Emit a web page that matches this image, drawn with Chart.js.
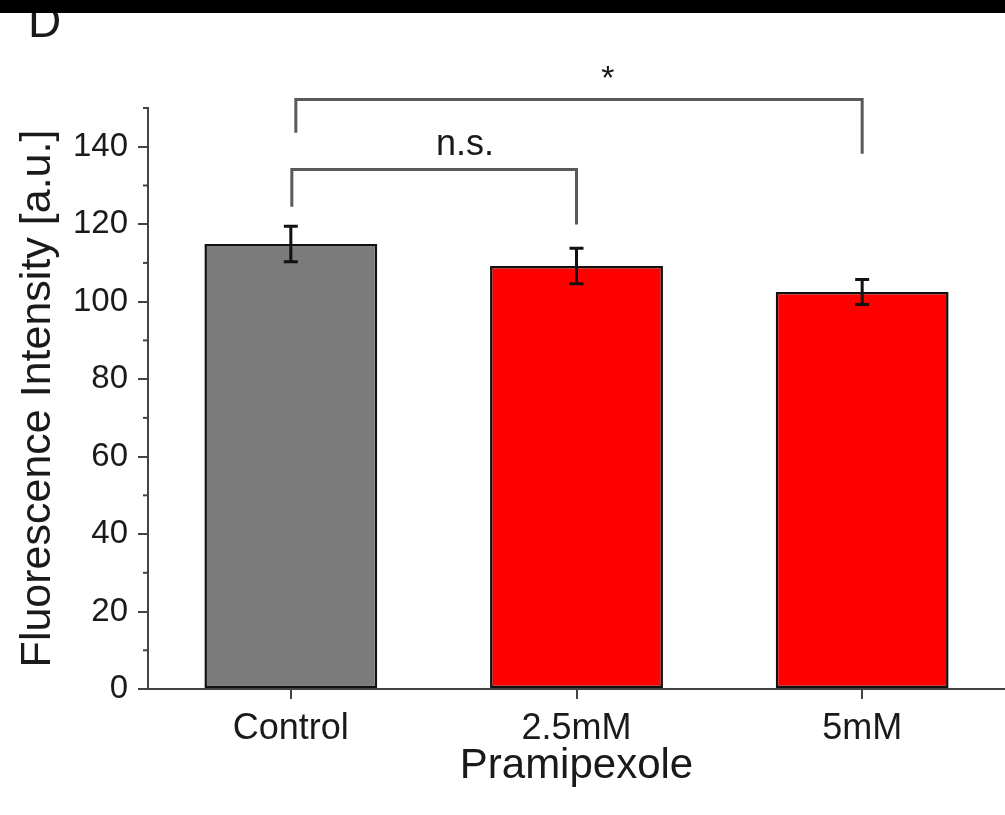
<!DOCTYPE html>
<html>
<head>
<meta charset="utf-8">
<script src="https://cdn.jsdelivr.net/npm/chart.js@4.4.1/dist/chart.umd.min.js"></script>
<style>
  html, body { margin: 0; padding: 0; background: #fff; }
  #chart { display: block; }
</style>
</head>
<body>
<canvas id="chart" width="1005" height="815"></canvas>
<script>
'use strict';

// *************** DATA
let categories = ['Control', '2.5mM', '5mM'];
let meanValues = [114.9, 109.2, 102.5];
let errorValues = [4.6, 4.6, 3.2];
let barColors = ['#7b7b7b', '#ff0000', '#ff0000'];
let yMajorTicks = [0, 20, 40, 60, 80, 100, 120, 140];
let yMinorTicks = [10, 30, 50, 70, 90, 110, 130, 150];

// significance brackets: pairs of categories, top level and leg ends in axis units
let bracketPairs = [[0, 1], [0, 2]];
let bracketTops = [134.1, 152.2];
let bracketLeftEnds = [124.5, 143.6];
let bracketRightEnds = [119.9, 138.2];
let bracketLabels = ['n.s.', '*'];
let bracketLabelX = [0.61, 1.11];
let bracketLabelY = [137.9, 155.0];

// *************** PLUGIN FOR EXTRA MARKS
let overlayPlugin = {
  id: 'overlay',
  beforeDraw(chart) {
    let c = chart.ctx;
    c.save();
    c.fillStyle = '#ffffff';
    c.fillRect(0, 0, chart.width, chart.height);
    c.restore();
  },
  afterDraw(chart) {
    let c = chart.ctx;
    let xs = chart.scales.x;
    let ys = chart.scales.y;
    let meta = chart.getDatasetMeta(0);

    c.save();

    // error bars
    c.strokeStyle = '#111';
    c.lineWidth = 3;
    for (let i = 0; i < meanValues.length; i++) {
      let x = meta.data[i].x;
      let yTop = ys.getPixelForValue(meanValues[i] + errorValues[i]);
      let yBot = ys.getPixelForValue(meanValues[i] - errorValues[i]);
      c.beginPath();
      c.moveTo(x, yTop);
      c.lineTo(x, yBot);
      c.moveTo(x - 7, yTop);
      c.lineTo(x + 7, yTop);
      c.moveTo(x - 7, yBot);
      c.lineTo(x + 7, yBot);
      c.stroke();
    }

    // minor ticks on y axis
    c.strokeStyle = '#444';
    c.lineWidth = 2;
    for (let i = 0; i < yMinorTicks.length; i++) {
      let y = ys.getPixelForValue(yMinorTicks[i]);
      c.beginPath();
      c.moveTo(ys.right - 5, y);
      c.lineTo(ys.right, y);
      c.stroke();
    }

    // brackets
    c.strokeStyle = '#5a5a5a';
    c.lineWidth = 3;
    c.lineJoin = 'miter';
    for (let i = 0; i < bracketPairs.length; i++) {
      let x1 = xs.getPixelForValue(bracketPairs[i][0]) + (i === 0 ? 1 : 5);
      let x2 = xs.getPixelForValue(bracketPairs[i][1]);
      let yTop = ys.getPixelForValue(bracketTops[i]);
      c.beginPath();
      c.moveTo(x1, ys.getPixelForValue(bracketLeftEnds[i]));
      c.lineTo(x1, yTop);
      c.lineTo(x2, yTop);
      c.lineTo(x2, ys.getPixelForValue(bracketRightEnds[i]));
      c.stroke();
    }

    c.fillStyle = '#1a1a1a';
    c.textAlign = 'center';
    c.textBaseline = 'alphabetic';
    for (let i = 0; i < bracketLabels.length; i++) {
      c.font = (i === 0 ? '36px' : '34px') + ' "Liberation Sans", Arial, sans-serif';
      c.fillText(bracketLabels[i], xs.getPixelForValue(bracketLabelX[i]), ys.getPixelForValue(bracketLabelY[i]));
    }

    // panel letter and top band
    c.font = '46px "Liberation Sans", Arial, sans-serif';
    c.textAlign = 'left';
    c.fillStyle = '#1a1a1a';
    c.fillText('D', 28, 37);
    c.fillStyle = '#000';
    c.fillRect(0, 0, chart.width, 13);

    c.restore();
  }
};

// *************** CHART
let ctx = document.getElementById('chart');

let chartObj = {
  type: 'bar',
  data: {
    labels: categories,
    datasets: [{
      data: meanValues,
      backgroundColor: barColors,
      borderColor: '#111',
      borderWidth: 2.5,
      borderSkipped: false,
      categoryPercentage: 1,
      barPercentage: 0.605
    }]
  },
  options: {
    responsive: false,
    animation: false,
    layout: { padding: { top: 108, right: 0, left: 0, bottom: 0 } },
    plugins: {
      legend: { display: false },
      tooltip: { enabled: false }
    },
    scales: {
      x: {
        offset: true,
        afterFit(scale) { scale.height = 126; },
        border: { display: true, color: '#444', width: 2 },
        grid: { display: true, drawOnChartArea: false, drawTicks: true, tickLength: 10, offset: false, color: '#444', lineWidth: 2 },
        ticks: {
          color: '#1a1a1a',
          padding: 8,
          font: { family: '"Liberation Sans", Arial, sans-serif', size: 36 }
        },
        title: {
          display: true,
          text: 'Pramipexole',
          color: '#1a1a1a',
          padding: { top: 0, bottom: 23 },
          font: { family: '"Liberation Sans", Arial, sans-serif', size: 42 }
        }
      },
      y: {
        min: 0,
        max: 150,
        afterFit(scale) { scale.width = 148; },
        afterBuildTicks(scale) {
          scale.ticks = yMajorTicks.map(v => ({ value: v }));
        },
        border: { display: true, color: '#444', width: 2 },
        grid: { display: true, drawOnChartArea: false, drawTicks: true, tickLength: 10, color: '#444', lineWidth: 2 },
        ticks: {
          color: '#1a1a1a',
          padding: 10,
          font: { family: '"Liberation Sans", Arial, sans-serif', size: 33 }
        },
        title: {
          display: true,
          text: 'Fluorescence Intensity [a.u.]',
          color: '#1a1a1a',
          padding: { top: 12, bottom: 0 },
          font: { family: '"Liberation Sans", Arial, sans-serif', size: 43 }
        }
      }
    }
  },
  plugins: [overlayPlugin]
};

new Chart(ctx, chartObj); // eslint-disable-line
</script>
</body>
</html>
